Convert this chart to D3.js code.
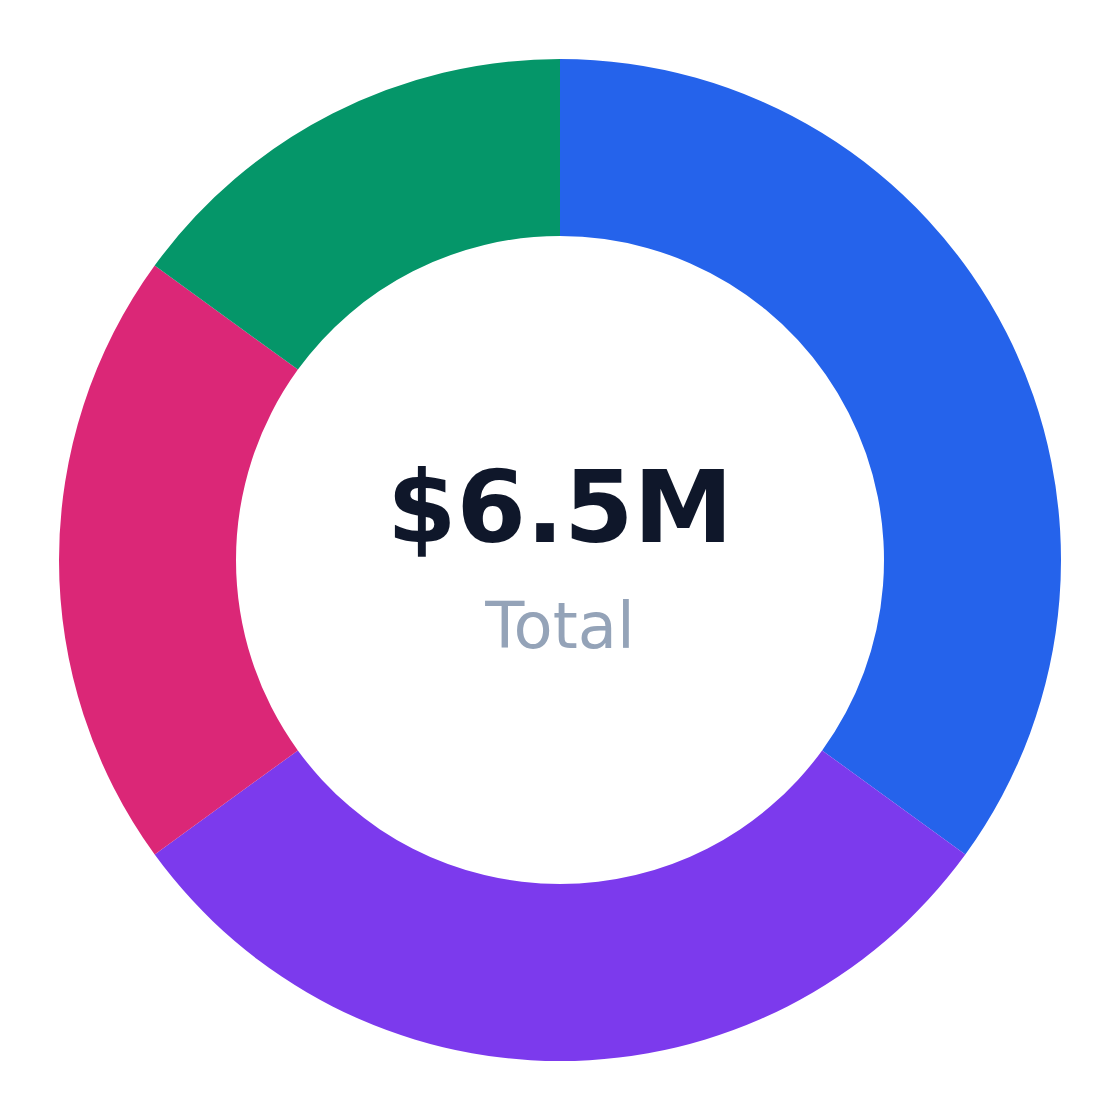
<!DOCTYPE html>
<html>
<head>
<meta charset="utf-8">
<script src="https://cdn.jsdelivr.net/npm/d3@7"></script>
<style>
	html, body { margin: 0; padding: 0; background: #ffffff; }
</style>
</head>
<body>
<div id="chart"></div>
<script>
// slice data (share of total, %)
var categories = ["Blue", "Purple", "Pink", "Green"];
var values = [35, 30, 20, 15];
var colors = ["#2563eb", "#7c3aed", "#db2777", "#059669"];
var totalLabel = "$6.5M";
var subLabel = "Total";

var width = 1120, height = 1120;
var outerR = 501, innerR = 324;

var svg = d3.select("#chart")
	.append("svg")
	.attr("width", width)
	.attr("height", height);

var g = svg.append("g")
	.attr("transform", "translate(" + width / 2 + "," + height / 2 + ")");

var pie = d3.pie().sort(null).value(function(d) { return d; });
var arc = d3.arc().innerRadius(innerR).outerRadius(outerR);

g.selectAll("path")
	.data(pie(values))
	.enter()
	.append("path")
	.attr("d", arc)
	.attr("fill", function(d, i) { return colors[i]; });

// center labels
g.append("text")
	.attr("text-anchor", "middle")
	.attr("y", -18)
	.attr("font-family", "DejaVu Sans")
	.attr("font-weight", "bold")
	.attr("font-size", 100)
	.attr("fill", "#0f172a")
	.text(totalLabel);

g.append("text")
	.attr("text-anchor", "middle")
	.attr("y", 88)
	.attr("font-family", "DejaVu Sans")
	.attr("font-size", 64)
	.attr("fill", "#94a3b8")
	.text(subLabel);
</script>
</body>
</html>
